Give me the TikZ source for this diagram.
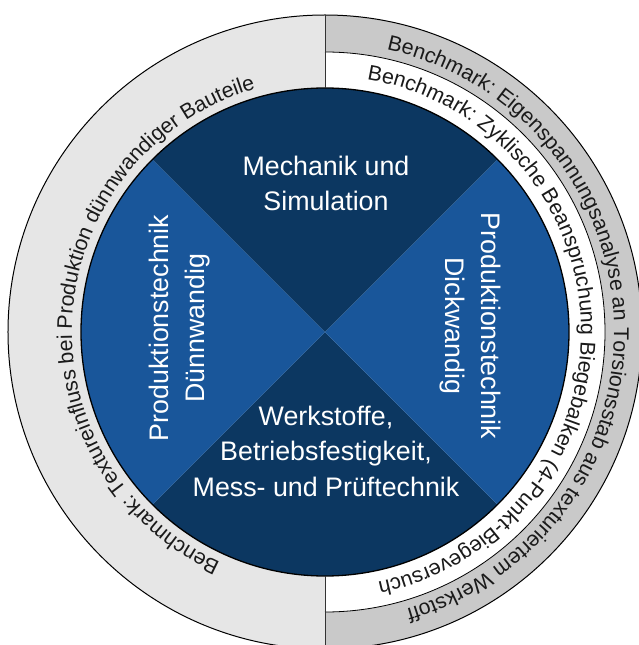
\documentclass[tikz,border=0pt]{standalone}
\usepackage{fontspec}
\setmainfont{Liberation Sans}
\usetikzlibrary{decorations.text}
\definecolor{navy}{HTML}{0C3761}
\definecolor{midblue}{HTML}{19569A}
\definecolor{lgray}{HTML}{E6E6E6}
\definecolor{mgray}{HTML}{C9C9C9}
\definecolor{ringtext}{HTML}{1A1A1A}
\newcommand\myringfont{\fontsize{21.3}{24}\selectfont}
\begin{document}
\begin{tikzpicture}[x=1pt,y=1pt,
  centertext/.style={text=white, font=\fontsize{26.8}{35.5}\selectfont, align=center, inner sep=0pt},
  outline/.style={draw=black, line width=1pt}]
\useasboundingbox (-325,-313) rectangle (313,332);
% rings
\fill[lgray] (0,317) arc[start angle=90,end angle=270,radius=317] -- cycle;
\fill[mgray] (0,317) arc[start angle=90,end angle=-90,radius=317] -- cycle;
\fill[white] (0,280) arc[start angle=90,end angle=-90,radius=280] -- cycle;
\draw[line width=0.8pt] (0,280) arc[start angle=90,end angle=-90,radius=280];
% quadrants
\fill[navy] (0,0) -- (135:244) arc[start angle=135,end angle=45,radius=244] -- cycle;
\fill[navy] (0,0) -- (-45:244) arc[start angle=-45,end angle=-135,radius=244] -- cycle;
\fill[midblue] (0,0) -- (45:244) arc[start angle=45,end angle=-45,radius=244] -- cycle;
\fill[midblue] (0,0) -- (135:244) arc[start angle=135,end angle=225,radius=244] -- cycle;
% outlines
\draw[outline] (0,0) circle[radius=317];
\draw[outline, line width=1.3pt] (0,0) circle[radius=244];
\draw[line width=0.8pt, black!80] (0,244) -- (0,317) (0,-244) -- (0,-317);
% ring labels
\path[decorate, decoration={text along path, text align=left, text color=ringtext,
  text={|\myringfont|Benchmark: Eigenspannungsanalyse an Torsionsstab aus texturiertem Werkstoff}}]
  (77.7:289) arc[start angle=77.7, end angle=-100, radius=289];
\path[decorate, decoration={text along path, text align=left, text color=ringtext,
  text={|\myringfont|Benchmark: Zyklische Beanspruchung Biegebalken (4-Punkt-Biegeversuch}}]
  (80.6:256) arc[start angle=80.6, end angle=-100, radius=256];
\path[decorate, decoration={text along path, text align=left, text color=ringtext,
  text={|\myringfont|Benchmark: Textureinfluss bei Produktion dünnwandiger Bauteile}}]
  (245.6:253) arc[start angle=245.6, end angle=90, radius=253];
% centre labels
\node[centertext] (mech) at (1,148.4) {Mechanik und\\Simulation};
\node[centertext] (werk) at (1,-119.4) {Werkstoffe,\\Betriebsfestigkeit,\\Mess- und Prüftechnik};
\node[centertext, rotate=90] (duenn) at (-145.6,4) {Produktionstechnik\\Dünnwandig};
\node[centertext, rotate=-90] (dick) at (145.2,6) {Produktionstechnik\\Dickwandig};
\end{tikzpicture}
\end{document}
